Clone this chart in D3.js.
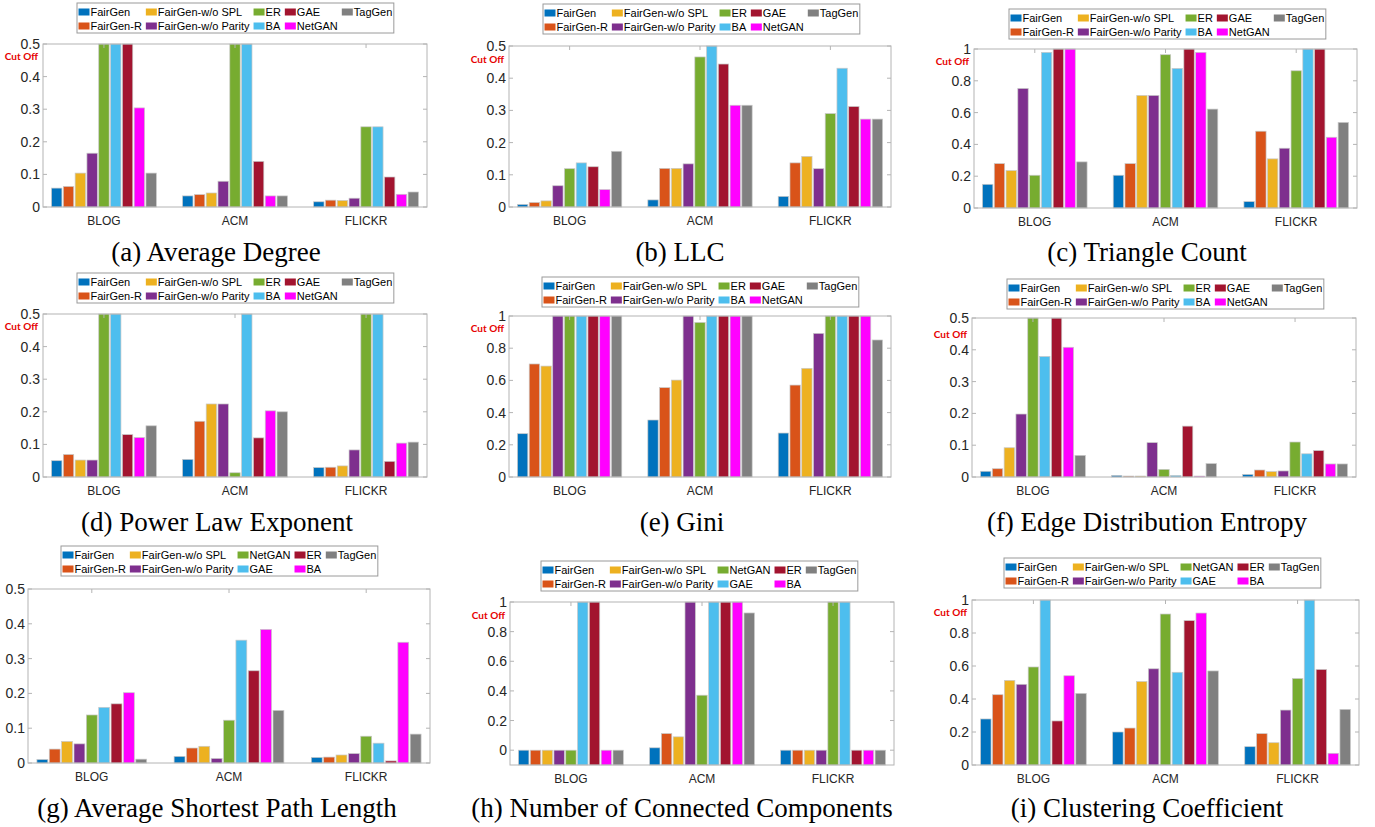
<!DOCTYPE html>
<html>
<head>
<meta charset="utf-8">
<script src="https://cdn.jsdelivr.net/npm/d3@7"></script>
<style>
  body { margin: 0; background: #fff; }
</style>
</head>
<body>
<svg id="fig" width="1375" height="827"></svg>
<script>
const datasets = ['BLOG', 'ACM', 'FLICKR'];

// legend order for (a)-(f) and for (g)-(i); colours go by bar position
const methods = ['FairGen', 'FairGen-R', 'FairGen-w/o SPL', 'FairGen-w/o Parity', 'ER', 'BA', 'GAE', 'NetGAN', 'TagGen'];
const methodsAlt = ['FairGen', 'FairGen-R', 'FairGen-w/o SPL', 'FairGen-w/o Parity', 'NetGAN', 'GAE', 'ER', 'BA', 'TagGen'];
const barColors = ['#0072BD', '#D95319', '#EDB120', '#7E2F8E', '#77AC30', '#4DBEEE', '#A2142F', '#FF00FF', '#808080'];

// one row per dataset (BLOG, ACM, FLICKR), values cut off at the axis top
const avgDegree = [
    [0.058, 0.063, 0.104, 0.165, 0.5, 0.5, 0.5, 0.304, 0.104],
    [0.034, 0.038, 0.043, 0.079, 0.5, 0.5, 0.14, 0.034, 0.034],
    [0.016, 0.021, 0.02, 0.027, 0.246, 0.246, 0.092, 0.039, 0.046],
];
const llc = [
    [0.008, 0.014, 0.019, 0.066, 0.119, 0.137, 0.125, 0.054, 0.173],
    [0.022, 0.12, 0.12, 0.134, 0.466, 0.5, 0.444, 0.316, 0.316],
    [0.033, 0.137, 0.157, 0.119, 0.29, 0.431, 0.312, 0.273, 0.273],
];
const triangleCount = [
    [0.149, 0.279, 0.235, 0.752, 0.206, 0.979, 1, 1, 0.29],
    [0.206, 0.279, 0.708, 0.708, 0.964, 0.878, 1, 0.979, 0.622],
    [0.04, 0.483, 0.309, 0.376, 0.863, 1, 1, 0.445, 0.538],
];
const powerLaw = [
    [0.05, 0.069, 0.052, 0.052, 0.5, 0.5, 0.13, 0.121, 0.157],
    [0.054, 0.171, 0.224, 0.224, 0.013, 0.5, 0.12, 0.203, 0.2],
    [0.029, 0.03, 0.034, 0.083, 0.5, 0.5, 0.048, 0.104, 0.107],
];
const gini = [
    [0.269, 0.702, 0.689, 1, 1, 1, 1, 1, 1],
    [0.354, 0.555, 0.602, 1, 0.96, 1, 1, 1, 1],
    [0.273, 0.571, 0.675, 0.892, 1, 1, 1, 1, 0.851],
];
const edgeEntropy = [
    [0.018, 0.026, 0.092, 0.198, 0.5, 0.379, 0.5, 0.408, 0.068],
    [0.005, 0.003, 0.003, 0.108, 0.024, 0.005, 0.16, 0.003, 0.042],
    [0.008, 0.022, 0.017, 0.019, 0.11, 0.073, 0.083, 0.041, 0.041],
];
const shortestPath = [
    [0.01, 0.04, 0.062, 0.055, 0.138, 0.16, 0.17, 0.202, 0.011],
    [0.019, 0.043, 0.048, 0.013, 0.123, 0.353, 0.265, 0.384, 0.151],
    [0.016, 0.017, 0.023, 0.027, 0.077, 0.057, 0.006, 0.347, 0.083],
];
const components = [
    [0, 0, 0, 0, 0, 1, 1, 0, 0],
    [0.016, 0.112, 0.09, 1, 0.371, 1, 1, 1, 0.926],
    [0, 0, 0, 0, 1, 1, 0, 0, 0],
];
const clustering = [
    [0.279, 0.426, 0.513, 0.489, 0.594, 1, 0.267, 0.541, 0.434],
    [0.2, 0.224, 0.506, 0.583, 0.915, 0.562, 0.875, 0.921, 0.57],
    [0.111, 0.19, 0.135, 0.333, 0.524, 1, 0.579, 0.071, 0.337],
];

const panels = [
    { caption: '(a) Average Degree', values: avgDegree, names: methods, ymin: 0, ymax: 0.5, step: 0.1, cut: 10,
      x0: 43, x1: 427, y0: 44, y1: 207, lx: 77, ly: 3, cx: 216, cy: 261 },
    { caption: '(b) LLC', values: llc, names: methods, ymin: 0, ymax: 0.5, step: 0.1, cut: 11,
      x0: 509, x1: 891, y0: 46, y1: 207, lx: 543, ly: 4, cx: 680, cy: 261 },
    { caption: '(c) Triangle Count', values: triangleCount, names: methods, ymin: 0, ymax: 1, step: 0.2, cut: 10.5,
      x0: 974, x1: 1357, y0: 49, y1: 208, lx: 1009, ly: 9, cx: 1147, cy: 261 },
    { caption: '(d) Power Law Exponent', values: powerLaw, names: methods, ymin: 0, ymax: 0.5, step: 0.1, cut: 10,
      x0: 43, x1: 427, y0: 314, y1: 477, lx: 77, ly: 273, cx: 217, cy: 531 },
    { caption: '(e) Gini', values: gini, names: methods, ymin: 0, ymax: 1, step: 0.2, cut: 10.5,
      x0: 509, x1: 891, y0: 316, y1: 477, lx: 542, ly: 277, cx: 682, cy: 531 },
    { caption: '(f) Edge Distribution Entropy', values: edgeEntropy, names: methods, ymin: 0, ymax: 0.5, step: 0.1, cut: 14,
      x0: 972, x1: 1356, y0: 318, y1: 477, lx: 1007, ly: 279, cx: 1147, cy: 531 },
    { caption: '(g) Average Shortest Path Length', values: shortestPath, names: methodsAlt, ymin: 0, ymax: 0.5, step: 0.1, cut: null,
      x0: 28, x1: 430, y0: 589, y1: 763, lx: 61, ly: 546, cx: 217, cy: 817 },
    { caption: '(h) Number of Connected Components', values: components, names: methodsAlt, ymin: -0.1, ymax: 1, step: 0.2, cut: 11,
      x0: 510, x1: 894, y0: 602, y1: 765, lx: 541, ly: 561, cx: 682, cy: 817 },
    { caption: '(i) Clustering Coefficient', values: clustering, names: methodsAlt, ymin: 0, ymax: 1, step: 0.2, cut: 10.5,
      x0: 972, x1: 1359, y0: 600, y1: 765, lx: 1004, ly: 558, cx: 1147, cy: 817 },
];

const svg = d3.select('#fig');
const axisColor = '#b4b4b4';
const sans = 'Liberation Sans, Arial, sans-serif';

function drawPanel(p) {
    const g = svg.append('g');

    const x = d3.scaleBand()
        .domain(datasets)
        .range([p.x0, p.x1])
        .paddingInner(0.2)
        .paddingOuter(0.065);

    const xInner = d3.scaleBand()
        .domain(d3.range(9))
        .range([0, x.bandwidth()])
        .paddingInner(0.12);

    const y = d3.scaleLinear()
        .domain([p.ymin, p.ymax])
        .range([p.y1, p.y0]);

    const ticks = d3.range(0, p.ymax + 1e-9, p.step);

    // bars
    datasets.forEach((ds, i) => {
        g.append('g')
            .selectAll('rect')
            .data(p.values[i])
            .join('rect')
            .attr('x', (d, j) => x(ds) + xInner(j))
            .attr('y', (d) => y(Math.min(d, p.ymax)))
            .attr('width', xInner.bandwidth())
            .attr('height', (d) => y(p.ymin) - y(Math.min(d, p.ymax)))
            .attr('fill', (d, j) => barColors[j])
            .attr('stroke', '#c8c8c8')
            .attr('stroke-width', 0.7);
    });

    // box
    g.append('rect')
        .attr('x', p.x0).attr('y', p.y0)
        .attr('width', p.x1 - p.x0).attr('height', p.y1 - p.y0)
        .attr('fill', 'none')
        .attr('stroke', axisColor)
        .attr('stroke-width', 1);

    // inward ticks on both y sides
    ticks.forEach((t) => {
        g.append('line')
            .attr('x1', p.x0).attr('x2', p.x0 + 4)
            .attr('y1', y(t)).attr('y2', y(t))
            .attr('stroke', axisColor);
        g.append('line')
            .attr('x1', p.x1).attr('x2', p.x1 - 4)
            .attr('y1', y(t)).attr('y2', y(t))
            .attr('stroke', axisColor);
        g.append('text')
            .attr('x', p.x0 - 3)
            .attr('y', y(t) + 5)
            .attr('text-anchor', 'end')
            .style('font-family', sans)
            .style('font-size', '14px')
            .style('fill', '#262626')
            .text(+t.toFixed(2));
    });

    // category ticks and labels
    datasets.forEach((ds) => {
        const cx = x(ds) + x.bandwidth() / 2;
        g.append('line')
            .attr('x1', cx).attr('x2', cx)
            .attr('y1', p.y0).attr('y2', p.y0 + 4)
            .attr('stroke', axisColor);
        g.append('text')
            .attr('x', cx)
            .attr('y', p.y1 + 18)
            .attr('text-anchor', 'middle')
            .style('font-family', sans)
            .style('font-size', '12px')
            .style('fill', '#262626')
            .text(ds);
    });

    if (p.cut !== null) {
        g.append('text')
            .attr('x', p.x0 - 5)
            .attr('y', p.y0 + p.cut + 5.5)
            .attr('text-anchor', 'end')
            .style('font-family', 'Lato, sans-serif')
            .style('font-weight', 'bold')
            .style('font-size', '10px')
            .style('fill', '#e60000')
            .text('Cut Off');
    }

    // legend, 5 columns filled column by column
    const lg = g.append('g');
    const box = lg.append('rect')
        .attr('x', p.lx).attr('y', p.ly)
        .attr('height', 30)
        .attr('fill', '#fff')
        .attr('stroke', '#9a9a9a')
        .attr('stroke-width', 1);

    let colX = p.lx + 1.5;
    for (let c = 0; c < 5; c++) {
        let maxW = 0;
        for (let r = 0; r < 2; r++) {
            const k = c * 2 + r;
            if (k >= p.names.length) continue;
            const ry = p.ly + 9 + r * 14;
            lg.append('rect')
                .attr('x', colX).attr('y', ry - 3.5)
                .attr('width', 11).attr('height', 7)
                .attr('fill', barColors[k]);
            const t = lg.append('text')
                .attr('x', colX + 12)
                .attr('y', ry + 4)
                .style('font-family', sans)
                .style('font-size', '11px')
                .style('fill', '#000')
                .text(p.names[k]);
            maxW = Math.max(maxW, t.node().getComputedTextLength());
        }
        colX += 12 + maxW + (c < 4 ? 4 : 1.5);
    }
    box.attr('width', colX - p.lx);

    // caption
    svg.append('text')
        .attr('x', p.cx)
        .attr('y', p.cy)
        .attr('text-anchor', 'middle')
        .style('font-family', 'Liberation Serif, Times New Roman, serif')
        .style('font-size', '27px')
        .style('fill', '#000')
        .text(p.caption);
}

panels.forEach(drawPanel);
</script>
</body>
</html>
